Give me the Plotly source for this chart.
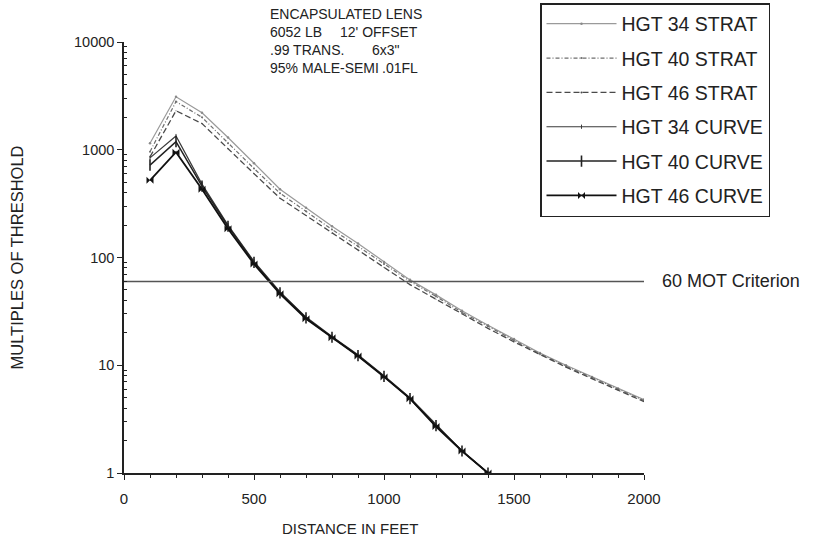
import plotly.graph_objects as go

# Distances (ft) at which exposure was evaluated
dist_strat = [100, 200, 300, 400, 500, 600, 700, 800, 900, 1000,
              1100, 1200, 1300, 1400, 1500, 1600, 1700, 1800, 1900, 2000]
dist_curve = [100, 200, 300, 400, 500, 600, 700, 800, 900, 1000,
              1100, 1200, 1300, 1400]

# Multiples of threshold, straight-line stratification model
hgt34_strat = [1150, 3100, 2200, 1300, 750, 430, 290, 195, 135, 91,
               62, 45, 32, 23.5, 17.5, 13, 10, 7.8, 6.1, 4.8]
hgt40_strat = [960, 2800, 2000, 1150, 670, 395, 268, 182, 127, 87,
               60, 43.5, 31, 23, 17, 12.8, 9.8, 7.7, 6.0, 4.7]
hgt46_strat = [860, 2300, 1750, 1020, 600, 355, 245, 168, 118, 81,
               56, 41, 30, 22, 16.5, 12.5, 9.6, 7.5, 5.9, 4.6]

# Multiples of threshold, curved-ray model
hgt34_curve = [840, 1340, 480, 200, 92, 48, 28, 18.5, 12.5, 8.0, 5.0, 2.8, 1.6, 1.0]
hgt40_curve = [720, 1190, 460, 195, 90, 47, 27.5, 18.2, 12.3, 7.9, 4.9, 2.75, 1.6, 1.0]
hgt46_curve = [520, 950, 430, 185, 87, 46, 27, 18, 12.2, 7.8, 4.9, 2.7, 1.6, 1.0]

criterion_x = [0, 2000]
criterion_y = [60, 60]

x_ticks = [0, 500, 1000, 1500, 2000]
y_ticks = [1, 10, 100, 1000, 10000]
y_tick_text = ["1", "10", "100", "1000", "10000"]

FONT = "Liberation Sans, Arial, Helvetica, sans-serif"

# plot area in pixels (for placing the free text)
L, R, T, B = 124, 644, 42, 473
W, H = R - L, B - T


def px(xp):
    return (xp - L) / W


def py(yp):
    return (B - yp) / H


fig = go.Figure()

series = [
    ("HGT 34 STRAT", dist_strat, hgt34_strat,
     dict(color="#9a9a9a", width=1.2, dash="solid"),
     dict(symbol="circle", size=2.5, color="#8a8a8a")),
    ("HGT 40 STRAT", dist_strat, hgt40_strat,
     dict(color="#6e6e6e", width=1.2, dash="4px,2px,1px,2px"),
     dict(symbol="circle", size=2, color="#6e6e6e")),
    ("HGT 46 STRAT", dist_strat, hgt46_strat,
     dict(color="#4a4a4a", width=1.3, dash="6px,3px"),
     dict(symbol="circle", size=1, color="#4a4a4a")),
    ("HGT 34 CURVE", dist_curve, hgt34_curve,
     dict(color="#3a3a3a", width=1.2, dash="solid"),
     dict(symbol="line-ns", size=3, color="#3a3a3a", line=dict(width=1, color="#3a3a3a"))),
    ("HGT 40 CURVE", dist_curve, hgt40_curve,
     dict(color="#222222", width=1.5, dash="solid"),
     dict(symbol="line-ns", size=8, color="#222222", line=dict(width=1.6, color="#222222"))),
    ("HGT 46 CURVE", dist_curve, hgt46_curve,
     dict(color="#111111", width=1.8, dash="solid"),
     dict(symbol="bowtie", size=7, color="#111111", line=dict(width=0))),
]

for i, (name, xs, ys, line, marker) in enumerate(series):
    fig.add_trace(go.Scatter(
        x=xs, y=ys, name=name, mode="lines+markers",
        line=line, marker=marker, legendgroup=f"g{i}",
    ))

fig.add_trace(go.Scatter(
    x=criterion_x, y=criterion_y, mode="lines", showlegend=False,
    line=dict(color="#555555", width=1.5), hoverinfo="skip",
))

fig.add_annotation(
    x=2000, y=1.778, xref="x", yref="y", xanchor="left", yanchor="middle",
    xshift=16, text="60 MOT Criterion", showarrow=False,
    font=dict(family=FONT, size=18, color="#222"),
)

# Test condition block: left column plus right-aligned values
note_font = dict(family=FONT, size=14, color="#222")
note_rows = [
    ("ENCAPSULATED LENS", ""),
    ("6052 LB", "12' OFFSET"),
    (".99 TRANS.", "6x3\""),
    ("95% MALE-SEMI", ".01FL"),
]
right_end = [None, 420, 402, 420]
for k, (left, right) in enumerate(note_rows):
    yp = py(14 + 18 * k)
    fig.add_annotation(x=px(268), y=yp, xref="paper", yref="paper",
                       xanchor="left", yanchor="middle", text=left,
                       showarrow=False, font=note_font)
    if right:
        fig.add_annotation(x=px(right_end[k]), y=yp, xref="paper", yref="paper",
                           xanchor="right", yanchor="middle", text=right,
                           showarrow=False, font=note_font)

# Axis title below the distance axis
fig.add_annotation(x=px(350), y=py(528), xref="paper", yref="paper",
                   xanchor="center", yanchor="middle", text="DISTANCE IN FEET",
                   showarrow=False, font=dict(family=FONT, size=15, color="#222"))

fig.update_layout(
    width=815, height=544,
    margin=dict(l=L, r=815 - R, t=T, b=544 - B, autoexpand=False),
    paper_bgcolor="white", plot_bgcolor="white",
    font=dict(family=FONT, size=14, color="#222"),
    showlegend=True,
    legend=dict(
        x=px(540), y=py(3), xanchor="left", yanchor="top",
        bordercolor="#222", borderwidth=1.5, bgcolor="white",
        font=dict(family=FONT, size=19.5, color="#222"),
        traceorder="grouped", tracegroupgap=6, itemwidth=70,
    ),
    xaxis=dict(
        range=[0, 2000], tickvals=x_ticks, showgrid=False, zeroline=False,
        showline=True, linecolor="#222", linewidth=1.5,
        ticks="outside", ticklen=5, tickwidth=1.2, tickcolor="#222",
        minor=dict(dtick=100, ticks="outside", ticklen=3, tickwidth=1.2, tickcolor="#222"),
        tickfont=dict(size=15), ticklabelstandoff=6,
    ),
    yaxis=dict(
        type="log", range=[0, 4], tickvals=y_ticks, ticktext=y_tick_text,
        showgrid=False, zeroline=False, showline=True, linecolor="#222", linewidth=1.5,
        ticks="outside", ticklen=5, tickwidth=1.2, tickcolor="#222",
        minor=dict(tickvals=[m * 10 ** d for d in range(4) for m in range(2, 10)],
                   ticks="inside", ticklen=3, tickwidth=1, tickcolor="#222"),
        title=dict(text="MULTIPLES OF THRESHOLD", font=dict(size=16.5), standoff=46),
        tickfont=dict(size=14.5),
    ),
)

fig.write_html("out.html")
